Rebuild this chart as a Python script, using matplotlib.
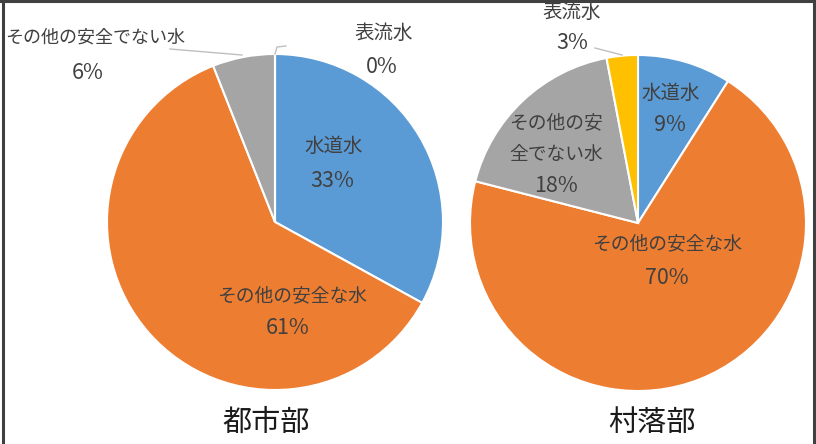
import matplotlib
matplotlib.use("Agg")
import matplotlib.pyplot as plt
from matplotlib.lines import Line2D

plt.rcParams['font.family'] = ['Noto Sans CJK JP', 'DejaVu Sans']

categories = ['水道水', 'その他の安全な水', 'その他の安全でない水', '表流水']
urban_values = [33, 61, 6, 0]
rural_values = [9, 70, 18, 3]
group_labels = ['都市部', '村落部']
colors = ['#5B9BD5', '#ED7D31', '#A5A5A5', '#FFC000']
txt_color = '#404040'

W, H = 816, 444
fig = plt.figure(figsize=(W / 100, H / 100), dpi=100)
fig.patch.set_facecolor('white')

R = 168
NAME_FS = 13.5
PCT_FS = 15.5


def make_ax(cx, cy):
    ax = fig.add_axes([(cx - R) / W, (H - cy - R) / H, 2 * R / W, 2 * R / H])
    return ax


def P(cx, cy, px, py):
    return ((px - cx) / R, (cy - py) / R)


def draw(ax, cx, cy, values, labels):
    ax.pie(values, colors=colors, startangle=90, counterclock=False,
           wedgeprops=dict(edgecolor='white', linewidth=1.5), radius=1.0)
    ax.set_xlim(-1, 1)
    ax.set_ylim(-1, 1)
    ax.set_axis_off()
    for (name, pct, pn, pp, fs) in labels:
        if name:
            x, y = P(cx, cy, *pn)
            ax.text(x, y, name, ha='center', va='center', fontsize=fs,
                    color=txt_color, clip_on=False)
        x, y = P(cx, cy, *pp)
        ax.text(x, y, pct, ha='center', va='center', fontsize=PCT_FS,
                color=txt_color, clip_on=False)


# left pie (urban)
cxL, cyL = 275, 222
axL = make_ax(cxL, cyL)
draw(axL, cxL, cyL, urban_values, [
    (categories[0], f'{urban_values[0]}%', (334, 146), (332, 181), 14),
    (categories[1], f'{urban_values[1]}%', (292, 296), (288, 328), NAME_FS),
    (categories[2], f'{urban_values[2]}%', (95, 38), (88, 73), 13),
    (categories[3], f'{urban_values[3]}%', (384, 33), (382, 67), 14),
])
# leader lines (left)
for pts in ([(170, 49), (242, 55)], [(275, 54), (277, 47), (286, 46)]):
    xs = [P(cxL, cyL, *p)[0] for p in pts]
    ys = [P(cxL, cyL, *p)[1] for p in pts]
    axL.plot(xs, ys, color='#BFBFBF', lw=1, clip_on=False)

# right pie (rural)
cxR, cyR = 638, 223
axR = make_ax(cxR, cyR)
draw(axR, cxR, cyR, rural_values, [
    (categories[0], f'{rural_values[0]}%', (671, 93), (670, 125), 14),
    (categories[1], f'{rural_values[1]}%', (667, 244), (667, 278), NAME_FS),
    (None, f'{rural_values[2]}%', None, (556, 186), NAME_FS),
    (categories[3], f'{rural_values[3]}%', (572, 12), (572, 43), 14),
])
for t, p in (('その他の安', (556, 123)), ('全でない水', (556, 154))):
    x, y = P(cxR, cyR, *p)
    axR.text(x, y, t, ha='center', va='center', fontsize=NAME_FS,
             color=txt_color, clip_on=False)
pts = [(595, 48), (622, 55)]
axR.plot([P(cxR, cyR, *p)[0] for p in pts], [P(cxR, cyR, *p)[1] for p in pts],
         color='#BFBFBF', lw=1, clip_on=False)

# group labels
fig.text(266 / W, 1 - 423 / H, group_labels[0], ha='center', va='center',
         fontsize=21, color='#1a1a1a')
fig.text(652 / W, 1 - 423 / H, group_labels[1], ha='center', va='center',
         fontsize=21, color='#1a1a1a')

# frame
for (x0, y0, x1, y1) in [(2.5, 0, 2.5, H), (813.5, 0, 813.5, H), (0, 1, W, 1)]:
    fig.add_artist(Line2D([x0 / W, x1 / W], [1 - y0 / H, 1 - y1 / H],
                          color='#404040', lw=2.2, transform=fig.transFigure))

fig.savefig('out.png', dpi=100)
